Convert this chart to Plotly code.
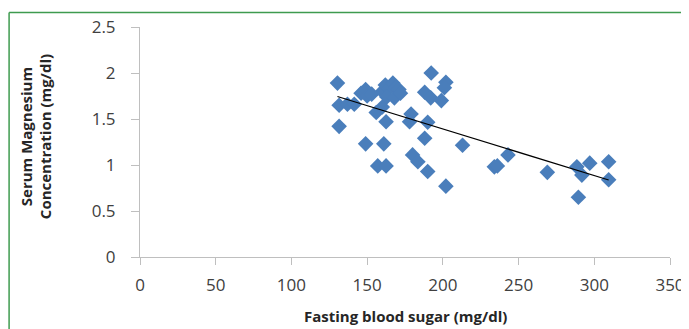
import numpy as np
import plotly.graph_objects as go

# Fasting blood sugar (mg/dl)
fbs = [130.4, 131.5, 131.5, 137, 141.5, 146, 149, 150, 153, 149,
       156, 160, 162.5, 161, 157, 162.5,
       160, 162, 165, 167, 169, 171, 163, 168, 172,
       179, 178, 190, 188, 180, 183.5, 190,
       192.3, 188, 192, 202, 199, 201, 202, 213,
       234, 236, 243, 269, 288.5, 291.8, 289.5, 297, 309.5, 309.5]
# Serum magnesium (mg/dl)
mg = [1.89, 1.65, 1.42, 1.66, 1.66, 1.78, 1.82, 1.75, 1.77, 1.23,
      1.57, 1.63, 1.47, 1.23, 0.99, 0.99,
      1.80, 1.87, 1.84, 1.89, 1.84, 1.82, 1.74, 1.73, 1.78,
      1.555, 1.47, 1.465, 1.29, 1.11, 1.035, 0.93,
      2.00, 1.79, 1.73, 1.90, 1.70, 1.84, 0.77, 1.215,
      0.98, 0.99, 1.11, 0.92, 0.98, 0.89, 0.65, 1.02, 1.035, 0.84]

x_ticks = [0, 50, 100, 150, 200, 250, 300, 350]
y_ticks = [0, 0.5, 1, 1.5, 2, 2.5]
y_ticktext = ["0", "0.5", "1", "1.5", "2", "2.5"]

slope, intercept = np.polyfit(fbs, mg, 1)
trend_x = [min(fbs), max(fbs)]
trend_y = [slope * v + intercept for v in trend_x]

fig = go.Figure()
fig.add_trace(go.Scatter(
    x=fbs, y=mg, mode="markers",
    marker=dict(symbol="diamond", size=12, color="#4A7EBB", line=dict(width=0)),
    showlegend=False, hoverinfo="x+y"))
fig.add_trace(go.Scatter(
    x=trend_x, y=trend_y, mode="lines",
    line=dict(color="#000000", width=1.2),
    showlegend=False, hoverinfo="skip"))

FONT = "Open Sans, Lato, sans-serif"
tickfont = dict(family=FONT, size=17, color="#404040")
titlefont = dict(family=FONT, size=15, color="#262626")
axis_line = "#BFBFBF"

# page body has an 8px default margin, so the figure is sized to fit the window
fig.update_layout(
    width=681, height=321,
    margin=dict(l=132, r=19, t=18.5, b=72, autoexpand=False),
    paper_bgcolor="white", plot_bgcolor="white",
    xaxis=dict(range=[0, 350], tickvals=x_ticks, ticktext=[str(v) for v in x_ticks],
               showgrid=False, zeroline=False, showline=True, linecolor=axis_line,
               linewidth=1, ticks="outside", ticklen=7, tickcolor=axis_line,
               tickfont=tickfont, ticklabelstandoff=6, automargin=False,
               ticklabeloverflow="allow"),
    yaxis=dict(range=[0, 2.5], tickvals=y_ticks, ticktext=y_ticktext,
               showgrid=False, zeroline=False, showline=True, linecolor=axis_line,
               linewidth=1, ticks="outside", ticklen=8, tickcolor=axis_line,
               tickfont=tickfont, ticklabelstandoff=12, automargin=False,
               ticklabeloverflow="allow"),
    annotations=[
        dict(text="<b>Serum Magnesium<br>Concentration (mg/dl)</b>",
             xref="paper", yref="paper", x=0, y=0.521, xanchor="center", yanchor="middle",
             xshift=-104, textangle=-90, showarrow=False, font=titlefont),
        dict(text="<b>Fasting blood sugar (mg/dl)</b>",
             xref="paper", yref="paper", x=0.5, y=0, xanchor="center", yanchor="middle",
             yshift=-59, showarrow=False, font=titlefont),
    ],
    shapes=[
        dict(type="line", xref="paper", yref="paper", x0=-0.247, x1=1.2, y0=1.063, y1=1.063,
             line=dict(color="#3F9B4F", width=1.5)),
        dict(type="line", xref="paper", yref="paper", x0=-0.247, x1=-0.247, y0=-0.5, y1=1.063,
             line=dict(color="#3F9B4F", width=1.5)),
    ],
)

fig.write_html("out.html")
